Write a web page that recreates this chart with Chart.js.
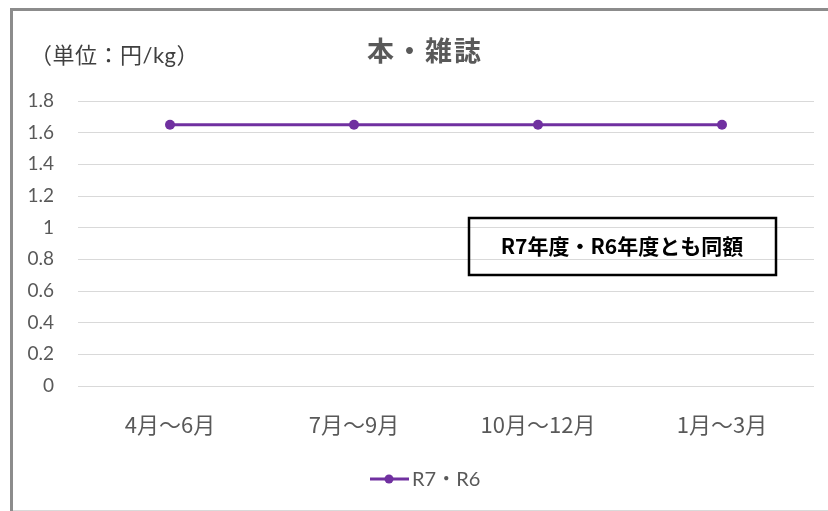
<!DOCTYPE html>
<html>
<head>
<meta charset="utf-8">
<script src="https://cdn.jsdelivr.net/npm/chart.js@4.4.1/dist/chart.umd.min.js"></script>
<style>
  html, body { margin: 0; padding: 0; background: #fff; }
  #wrap { width: 828px; height: 511px; position: relative; }
</style>
</head>
<body>
<div id="wrap"><canvas id="chart" width="828" height="511"></canvas></div>
<script>
// chart data
const categories = ['4月～6月', '7月～9月', '10月～12月', '1月～3月'];
const seriesName = 'R7・R6';
const seriesValues = [1.65, 1.65, 1.65, 1.65];
const yTicks = [0, 0.2, 0.4, 0.6, 0.8, 1, 1.2, 1.4, 1.6, 1.8];

const chartTitle = '本・雑誌';
const unitLabel = '（単位：円/kg）';
const noteText = 'R7年度・R6年度とも同額';

const FONT = "Lato, 'Noto Sans CJK JP', sans-serif";
const JP = "'Noto Sans CJK JP', sans-serif";
const GRAY = '#595959';
const PURPLE = '#7030a0';

// frame, title, unit, note box and legend
const decorations = {
  id: 'decorations',
  beforeDraw(chart) {
    const ctx = chart.ctx;
    ctx.save();
    ctx.fillStyle = '#fff';
    ctx.fillRect(0, 0, chart.width, chart.height);
    ctx.restore();
  },
  afterDraw(chart) {
    const ctx = chart.ctx;
    ctx.save();
    // outer frame
    ctx.strokeStyle = '#d9d9d9';
    ctx.lineWidth = 1;
    ctx.beginPath();
    ctx.moveTo(10, 510.5);
    ctx.lineTo(828, 510.5);
    ctx.stroke();
    ctx.strokeStyle = '#8c8c8c';
    ctx.lineWidth = 3;
    ctx.beginPath();
    ctx.moveTo(11.5, 511);
    ctx.lineTo(11.5, 9.5);
    ctx.lineTo(828, 9.5);
    ctx.stroke();

    // title
    ctx.fillStyle = GRAY;
    ctx.textAlign = 'center';
    ctx.textBaseline = 'middle';
    ctx.font = 'bold 27px ' + JP;
    ctx.letterSpacing = '2px';
    ctx.fillText(chartTitle, 425, 51);
    ctx.letterSpacing = '0px';

    // unit
    ctx.fillStyle = '#404040';
    ctx.textAlign = 'left';
    ctx.font = '22px ' + FONT;
    ctx.letterSpacing = '0.5px';
    ctx.fillText(unitLabel, 30, 56);
    ctx.letterSpacing = '0px';

    // note box
    ctx.strokeStyle = '#000';
    ctx.lineWidth = 2.5;
    ctx.strokeRect(469, 218, 307, 57);
    ctx.fillStyle = '#000';
    ctx.textAlign = 'center';
    ctx.font = 'bold 21px ' + JP;
    ctx.fillText(noteText, 622, 246);

    // legend
    const ds = chart.data.datasets[0];
    ctx.strokeStyle = ds.borderColor;
    ctx.lineWidth = 3;
    ctx.beginPath();
    ctx.moveTo(370, 479);
    ctx.lineTo(409, 479);
    ctx.stroke();
    ctx.fillStyle = ds.borderColor;
    ctx.beginPath();
    ctx.arc(389, 479, 4.5, 0, Math.PI * 2);
    ctx.fill();
    ctx.fillStyle = GRAY;
    ctx.textAlign = 'left';
    ctx.font = '20px ' + FONT;
    ctx.fillText(ds.label, 412, 480);
    ctx.restore();
  }
};

new Chart(document.getElementById('chart').getContext('2d'), {
  type: 'line',
  data: {
    labels: categories,
    datasets: [{
      label: seriesName,
      data: seriesValues,
      borderColor: PURPLE,
      backgroundColor: PURPLE,
      borderWidth: 3,
      pointRadius: 5,
      pointBackgroundColor: PURPLE,
      pointBorderWidth: 0,
      tension: 0
    }]
  },
  options: {
    responsive: false,
    animation: false,
    devicePixelRatio: 1,
    layout: { padding: { left: 0, right: 14, top: 101, bottom: 0 } },
    plugins: {
      legend: { display: false },
      title: { display: false },
      tooltip: { enabled: false }
    },
    scales: {
      x: {
        offset: true,
        grid: { display: false, drawTicks: false },
        border: { display: false },
        ticks: {
          color: GRAY,
          font: { family: JP, size: 22 },
          padding: 25,
          maxRotation: 0,
          autoSkip: false
        },
        afterFit(scale) { scale.height = 125; }
      },
      y: {
        min: 0,
        max: 1.8,
        afterBuildTicks(scale) { scale.ticks = yTicks.map(v => ({ value: v })); },
        grid: { color: '#d9d9d9', lineWidth: 1, drawTicks: false },
        border: { display: false },
        ticks: {
          color: GRAY,
          font: { family: FONT, size: 19 },
          padding: 24,
          callback: v => String(v)
        },
        afterFit(scale) { scale.width = 78; }
      }
    }
  },
  plugins: [decorations]
});
</script>
</body>
</html>
